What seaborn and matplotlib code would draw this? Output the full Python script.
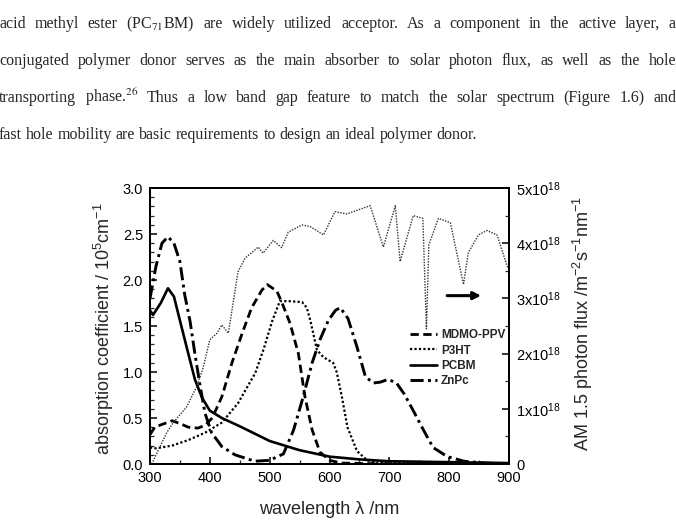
import matplotlib
matplotlib.use("Agg")
import matplotlib.pyplot as plt
from matplotlib.ticker import MultipleLocator, FixedLocator, FixedFormatter
import pandas as pd
import seaborn as sns

# absorption spectra (left axis, 10^5 cm^-1)
wl_mdmo = [300, 308, 320, 337, 350, 364, 380, 392, 404, 420, 437, 454, 470, 487, 496,
           512, 522, 534, 548, 559, 571, 584, 600, 620, 700, 900]
abs_mdmo = [0.32, 0.40, 0.43, 0.47, 0.44, 0.40, 0.39, 0.42, 0.50, 0.73, 1.10, 1.42, 1.70,
            1.89, 1.95, 1.88, 1.73, 1.53, 1.20, 0.73, 0.37, 0.13, 0.04, 0.01, 0.0, 0.0]

wl_p3ht = [300, 310, 337, 364, 392, 420, 447, 476, 490, 504, 517, 532, 554, 562, 568,
           579, 590, 606, 612, 621, 630, 646, 663, 680, 900]
abs_p3ht = [0.18, 0.17, 0.20, 0.26, 0.34, 0.45, 0.66, 0.99, 1.25, 1.55, 1.77, 1.77, 1.76,
            1.70, 1.56, 1.24, 1.16, 1.10, 1.00, 0.72, 0.40, 0.14, 0.04, 0.01, 0.0]

wl_pcbm = [300, 305, 318, 330, 340, 350, 364, 375, 387, 400, 420, 450, 500, 550, 600,
           650, 700, 800, 900]
abs_pcbm = [1.67, 1.62, 1.75, 1.91, 1.82, 1.56, 1.20, 0.92, 0.72, 0.58, 0.50, 0.41, 0.25,
            0.15, 0.08, 0.05, 0.03, 0.02, 0.01]

wl_znpc = [300, 310, 320, 330, 340, 350, 358, 367, 375, 384, 392, 403, 420, 442, 475,
           500, 523, 540, 556, 571, 584, 598, 610, 618, 631, 646, 660, 673, 685, 698,
           712, 725, 740, 757, 773, 797, 825, 860, 900]
abs_znpc = [1.80, 2.15, 2.40, 2.47, 2.40, 2.20, 1.84, 1.55, 1.20, 0.84, 0.55, 0.34, 0.19,
            0.10, 0.03, 0.04, 0.11, 0.37, 0.73, 1.10, 1.35, 1.56, 1.67, 1.70, 1.58, 1.27,
            0.95, 0.88, 0.89, 0.92, 0.88, 0.76, 0.58, 0.37, 0.18, 0.08, 0.03, 0.01, 0.0]

# AM 1.5 photon flux (right axis, 10^18 m^-2 s^-1 nm^-1)
wl_flux = [303, 328, 339, 361, 378, 389, 400, 412, 420, 431, 447, 459, 481, 489, 506,
           520, 531, 554, 568, 590, 609, 629, 668, 690, 710, 718, 740, 756, 762, 766,
           782, 802, 824, 832, 849, 863, 880, 898]
flux = [0.0, 0.57, 0.75, 1.03, 1.40, 1.75, 2.25, 2.37, 2.52, 2.37, 3.48, 3.73, 3.93, 3.82,
        4.05, 3.92, 4.20, 4.33, 4.30, 4.15, 4.57, 4.53, 4.68, 3.93, 4.68, 3.67, 4.50, 4.45,
        2.45, 3.97, 4.45, 4.37, 3.25, 3.83, 4.15, 4.23, 4.15, 3.55]

flux_ticks = [0, 1, 2, 3, 4, 5]
flux_labels = ["0"] + [f"{i}x10$^{{18}}$" for i in flux_ticks[1:]]

body_lines = [
    "acid methyl ester (PC$_{71}$BM) are widely utilized acceptor. As a component in the active layer, a",
    "conjugated polymer donor serves as the main absorber to solar photon flux, as well as the hole",
    "transporting phase.$^{26}$ Thus a low band gap feature to match the solar spectrum (Figure 1.6) and",
    "fast hole mobility are basic requirements to design an ideal polymer donor.",
]

sns.set_style("ticks")
plt.rcParams["font.family"] = ["Liberation Sans", "DejaVu Sans"]
plt.rcParams["mathtext.fontset"] = "custom"
plt.rcParams["mathtext.rm"] = "Liberation Sans"
plt.rcParams["mathtext.it"] = "Liberation Sans:italic"

W, H = 676, 526
fig = plt.figure(figsize=(W / 100, H / 100), dpi=100)
ax = fig.add_axes([150 / W, 62 / H, 359 / W, 276 / H])
ax2 = ax.twinx()

series = [
    ("MDMO-PPV", wl_mdmo, abs_mdmo, (0, (3, 1.6)), 2.0),
    ("P3HT", wl_p3ht, abs_p3ht, (0, (1, 1)), 1.6),
    ("PCBM", wl_pcbm, abs_pcbm, "-", 1.9),
    ("ZnPc", wl_znpc, abs_znpc, (0, (4.5, 1.5, 1, 1.5)), 2.1),
]
for name, wl, a, ls, lw in series:
    df = pd.DataFrame({"wavelength": wl, "absorption": a})
    sns.lineplot(data=df, x="wavelength", y="absorption", ax=ax, color="black",
                 linestyle=ls, linewidth=lw, label=name)

df_flux = pd.DataFrame({"wavelength": wl_flux, "flux": flux})
sns.lineplot(data=df_flux, x="wavelength", y="flux", ax=ax2, color="#333333",
             linestyle=(0, (1, 1)), linewidth=1.0, legend=False)

ax.set_xlim(300, 900)
ax.set_ylim(0, 3)
ax2.set_ylim(0, 5)
ax.xaxis.set_major_locator(MultipleLocator(100))
ax.xaxis.set_minor_locator(MultipleLocator(50))
ax.yaxis.set_major_locator(MultipleLocator(0.5))
ax.yaxis.set_minor_locator(MultipleLocator(0.1))
ax.yaxis.set_major_formatter(plt.FormatStrFormatter("%.1f"))
ax2.yaxis.set_major_locator(FixedLocator(flux_ticks))
ax2.yaxis.set_major_formatter(FixedFormatter(flux_labels))
ax2.yaxis.set_minor_locator(MultipleLocator(0.5))

for a in (ax, ax2):
    a.tick_params(which="major", direction="in", length=5, width=1.1, labelsize=10.5,
                  pad=5, colors="black")
    a.tick_params(which="minor", direction="in", length=3, width=0.9)
    for s in a.spines.values():
        s.set_linewidth(1.4)
        s.set_color("black")
        s.set_visible(True)
ax.tick_params(axis="x", which="major", pad=5)

ax.set_xlabel("wavelength λ /nm", fontsize=13)
ax.xaxis.set_label_coords(0.5, -0.165)
ax.xaxis.label.set_va("center")
ax.set_ylabel("absorption coefficient / 10$^{5}$cm$^{-1}$", fontsize=13)
ax.yaxis.set_label_coords(-0.128, 0.49)
ax.yaxis.label.set_va("center")
ax2.set_ylabel("AM 1.5 photon flux /m$^{-2}$s$^{-1}$nm$^{-1}$", fontsize=13, rotation=90)
ax2.yaxis.set_label_coords(1.205, 0.51)
ax2.yaxis.label.set_va("center")

handles, labels = ax.get_legend_handles_labels()
ax.legend(handles, labels, loc="upper left", bbox_to_anchor=(0.725, 0.488),
          frameon=False, prop={"weight": "bold", "size": 8.5}, handlelength=2.3,
          handletextpad=0.3, labelspacing=0.28, borderpad=0, borderaxespad=0)

ax.annotate("", xy=(858, 1.83), xytext=(792, 1.83),
            arrowprops=dict(arrowstyle="-|>", color="black", lw=2.2, mutation_scale=11))

# paragraph above the figure, justified like the page
renderer = fig.canvas.get_renderer()
body_size = 11.5
baselines = [28, 65, 102, 139]
for i, (line, yb) in enumerate(zip(body_lines, baselines)):
    words = line.split(" ")
    texts = [fig.text(0, 0, w, fontsize=body_size, family="Liberation Serif",
                      math_fontfamily="stix", va="baseline") for w in words]
    widths = [t.get_window_extent(renderer).width for t in texts]
    if i < len(body_lines) - 1:
        gap = (W + 1 - sum(widths)) / (len(words) - 1)
    else:
        gap = body_size * 0.25 * 100 / 72
    x = -1
    for t, w in zip(texts, widths):
        t.set_position((x / W, 1 - yb / H))
        x += w + gap

fig.savefig("out.png", dpi=100)
